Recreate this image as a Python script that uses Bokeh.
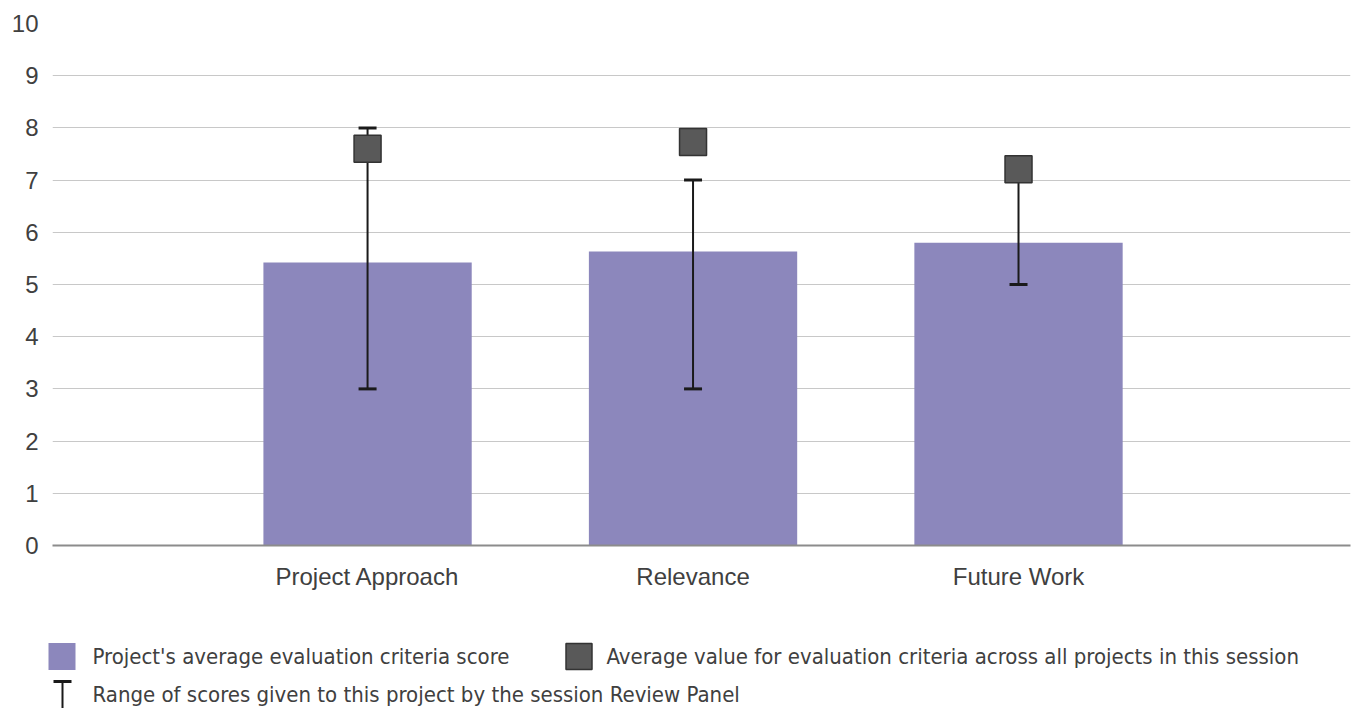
from bokeh.plotting import figure
from bokeh.layouts import column
from bokeh.models import Range1d, FixedTicker
from bokeh.core.properties import value
from bokeh.embed import file_html
from bokeh.resources import INLINE

# ---- data ----
categories = ["Project Approach", "Relevance", "Future Work"]
project_scores = [5.42, 5.63, 5.80]
session_averages = [7.60, 7.73, 7.21]
range_low = [3, 3, 5]
range_high = [8, 7, 7]
y_ticks = [0, 1, 2, 3, 4, 5, 6, 7, 8, 9, 10]
legend_labels = [
    "Project's average evaluation criteria score",
    "Average value for evaluation criteria across all projects in this session",
    "Range of scores given to this project by the session Review Panel",
]

BAR = "#8C87BC"
SQ = "#595959"
TXT = "#404040"
FONT = "Liberation Sans"
NARROW = "'DejaVu Sans Condensed', 'Liberation Sans Narrow', Roboto, sans-serif"

xs = list(range(1, len(categories) + 1))

p = figure(width=1351, height=608, output_backend="svg", toolbar_location=None,
           x_range=Range1d(0.032, 4.02), y_range=Range1d(0, 10),
           min_border_left=52, min_border_right=1, min_border_top=23,
           min_border_bottom=63)
p.outline_line_color = None
p.background_fill_color = "white"
p.border_fill_color = "white"

p.vbar(x=xs, top=project_scores, width=0.64, fill_color=BAR, line_color=None)
p.segment(x0=xs, y0=range_low, x1=xs, y1=range_high, line_color="#1a1a1a", line_width=2)
p.scatter(x=xs, y=range_low, marker="dash", size=18, line_color="#1a1a1a", line_width=3)
p.scatter(x=xs, y=range_high, marker="dash", size=18, line_color="#1a1a1a", line_width=3)
p.scatter(x=xs, y=session_averages, marker="square", size=27, fill_color=SQ,
          line_color="#333333", line_width=1.5)

p.xgrid.grid_line_color = None
p.ygrid.grid_line_color = "#c8c8c8"
p.ygrid.grid_line_width = 1
p.ygrid.ticker = FixedTicker(ticks=y_ticks)

p.yaxis.ticker = FixedTicker(ticks=y_ticks)
p.yaxis.axis_line_color = None
p.yaxis.major_tick_line_color = None
p.yaxis.minor_tick_line_color = None
p.yaxis.major_label_standoff = 8
p.yaxis.major_label_text_font = FONT
p.yaxis.major_label_text_font_size = "24px"
p.yaxis.major_label_text_color = TXT

p.xaxis.ticker = FixedTicker(ticks=xs)
p.xaxis.major_label_overrides = {x: c for x, c in zip(xs, categories)}
p.xaxis.axis_line_color = "#8c8c8c"
p.xaxis.axis_line_width = 2
p.xaxis.major_tick_line_color = None
p.xaxis.minor_tick_line_color = None
p.xaxis.major_label_standoff = 11
p.xaxis.major_label_text_font = FONT
p.xaxis.major_label_text_font_size = "24px"
p.xaxis.major_label_text_color = TXT

# ---- legend (pixel-space figure) ----
leg = figure(width=1351, height=100, output_backend="svg", toolbar_location=None,
             x_range=Range1d(0, 1351), y_range=Range1d(100, 0),
             x_axis_type=None, y_axis_type=None, min_border=0)
leg.frame_align = False
leg.outline_line_color = None
leg.grid.visible = False
leg.background_fill_color = "white"
leg.border_fill_color = "white"

leg.scatter(x=[61.5], y=[48], marker="square", size=27, fill_color=BAR, line_color=None)
leg.scatter(x=[578.5], y=[48], marker="square", size=26, fill_color=SQ,
            line_color="#333333", line_width=1.5)
leg.segment(x0=[62], y0=[72], x1=[62], y1=[100], line_color="#1a1a1a", line_width=2)
leg.segment(x0=[53], y0=[73], x1=[71], y1=[73], line_color="#1a1a1a", line_width=3)
leg.text(x=[92, 606, 92], y=[48, 48, 86], text=legend_labels,
         text_baseline="middle", text_align="left",
         text_font=value(NARROW), text_font_size="22px", text_color=TXT)

layout = column(p, leg)
open("out.html", "w").write(file_html(layout, INLINE))
